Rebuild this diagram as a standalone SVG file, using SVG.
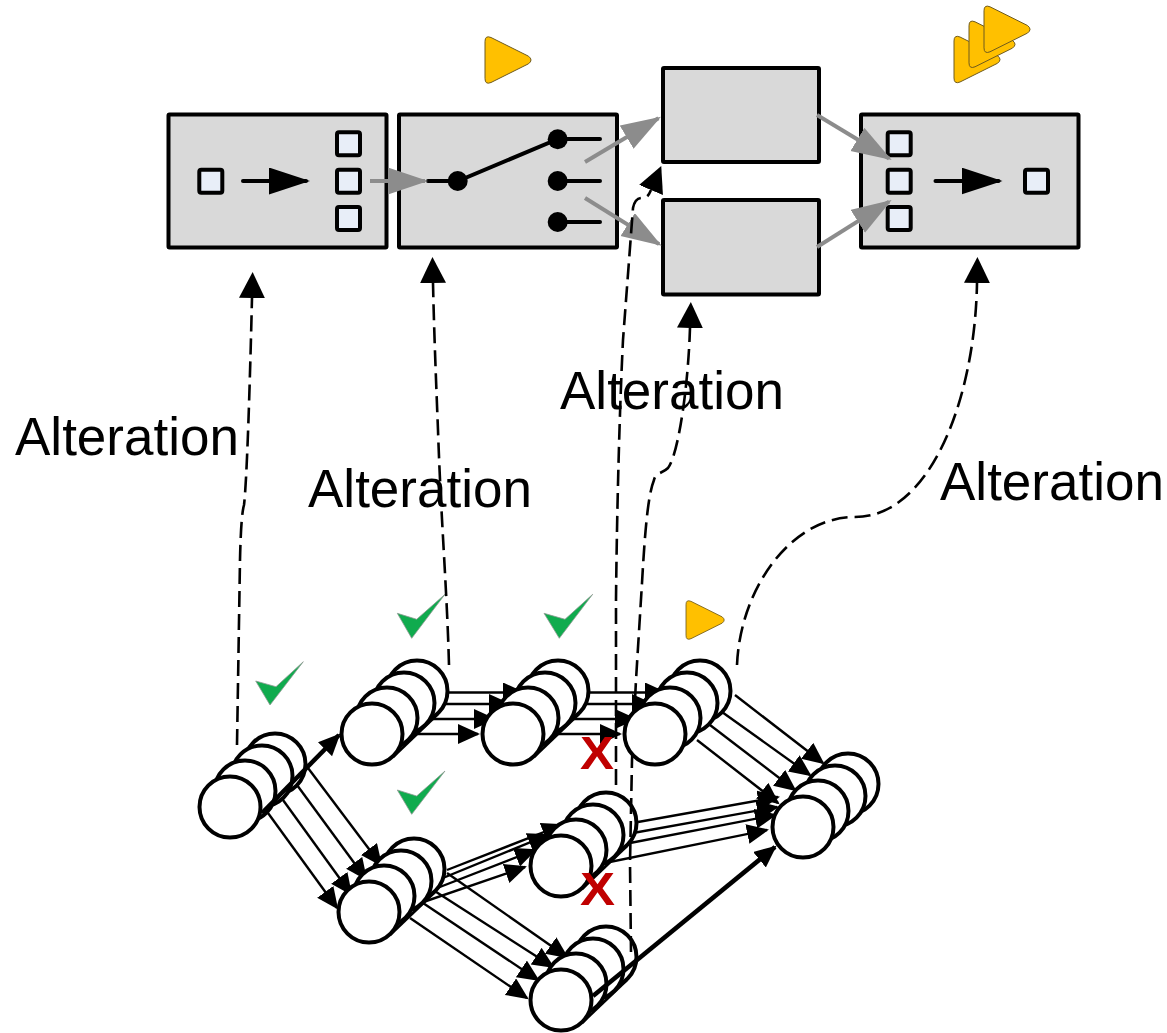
<svg xmlns="http://www.w3.org/2000/svg" width="1167" height="1033" viewBox="0 0 1167 1033">
<style>
.box{fill:#d9d9d9;stroke:#000;stroke-width:4;stroke-linejoin:round}
.sq{fill:#e8eef8;stroke:#000;stroke-width:4}
.dot{fill:#000}
.wire{fill:none;stroke:#000;stroke-width:4;stroke-linecap:round}
.garrow{fill:none;stroke:#8c8c8c;stroke-width:4;marker-end:url(#hg)}
.barrow{fill:none;stroke:#000;stroke-width:4;stroke-linecap:round;marker-end:url(#hb)}
.thin{fill:none;stroke:#000;stroke-width:2.4;marker-end:url(#ht)}
.thick{fill:none;stroke:#000;stroke-width:4.5;marker-end:url(#ht)}
.dash{fill:none;stroke:#000;stroke-width:2.6;stroke-dasharray:16 7;marker-end:url(#hd)}
.c{fill:#fff;stroke:#000;stroke-width:4}
.tan{stroke:#000;stroke-width:2.6}
.tri{fill:#ffc000;stroke:#6e5a1e;stroke-width:1}
.chk{fill:#10ab4e;stroke:#8f9a93;stroke-width:.8}
.lbl{font-family:"Liberation Sans",Arial,sans-serif;font-size:53px;fill:#000}
.x{font-family:"Liberation Sans",Arial,sans-serif;font-size:47px;font-weight:bold;fill:#c00000}
</style>
<defs>
<marker id="ht" markerUnits="userSpaceOnUse" markerWidth="23" markerHeight="21" refX="20" refY="10" orient="auto"><path d="M0 0L22 10L0 20Z"/></marker>
<marker id="hd" markerUnits="userSpaceOnUse" markerWidth="28" markerHeight="28" refX="0" refY="13" orient="auto"><path d="M0 0L26 13L0 26Z"/></marker>
<marker id="hb" markerUnits="userSpaceOnUse" markerWidth="42" markerHeight="28" refX="37" refY="13.500" orient="auto"><path d="M0 0L41 13.500L0 27Z"/></marker>
<marker id="hg" markerUnits="userSpaceOnUse" markerWidth="42" markerHeight="28" refX="37" refY="13.500" orient="auto"><path d="M0 0L40 13.500L0 27Z" fill="#8c8c8c"/></marker>
<g id="stack">
<circle class="c" cx="45" cy="-43" r="30.500"/>
<circle class="c" cx="32" cy="-31" r="30.500"/>
<circle class="c" cx="15" cy="-16" r="30.500"/>
<circle class="c" cx="0" cy="0" r="30.500"/>
</g>
<line id="tangent" class="tan" x1="21" y1="23" x2="66" y2="-20"/>
<path id="tri" class="tri" d="M0 5Q0 -1.500 6 1L43.500 19.700Q48.500 23.500 43.500 27.300L6 46Q0 48.500 0 42Z"/>
</defs>

<g id="box-split-left">
<rect class="box" x="168.500" y="114.500" width="218" height="133" rx="1"/>
<rect class="sq" x="199.300" y="169.700" width="23" height="23" rx="2"/>
<rect class="sq" x="337" y="132.300" width="23" height="23" rx="2"/>
<rect class="sq" x="337" y="169.700" width="23" height="23" rx="2"/>
<rect class="sq" x="337" y="207" width="23" height="23" rx="2"/>
<line class="barrow" x1="243" y1="181" x2="306" y2="181"/>
</g>
<g id="box-switch">
<rect class="box" x="399" y="114.500" width="218" height="133" rx="1"/>
<path class="wire" d="M428 181H458L558 139H600M558 181H600M558 222H600"/>
<circle class="dot" cx="457.700" cy="181" r="10"/>
<circle class="dot" cx="557.700" cy="139.300" r="10"/>
<circle class="dot" cx="557.700" cy="181" r="10"/>
<circle class="dot" cx="557.700" cy="222" r="10"/>
</g>
<g id="box-upper"><rect class="box" x="663" y="68" width="156" height="94" rx="1"/></g>
<g id="box-lower"><rect class="box" x="663" y="200" width="156" height="94.500" rx="1"/></g>
<g id="box-merge">
<rect class="box" x="861" y="114.500" width="217.500" height="133" rx="1"/>
<rect class="sq" x="887.700" y="132.300" width="23" height="23" rx="2"/>
<rect class="sq" x="887.700" y="169.700" width="23" height="23" rx="2"/>
<rect class="sq" x="887.700" y="207" width="23" height="23" rx="2"/>
<rect class="sq" x="1025" y="169.700" width="23" height="23" rx="2"/>
<line class="barrow" x1="935.500" y1="181" x2="998.500" y2="181"/>
</g>
<g id="top-connectors">
<line class="garrow" x1="370" y1="181" x2="425" y2="181"/>
<line class="garrow" x1="585" y1="162" x2="658.400" y2="118.200"/>
<line class="garrow" x1="585" y1="198" x2="659.100" y2="244.100"/>
<line class="garrow" x1="817" y1="115" x2="889.100" y2="158.500"/>
<line class="garrow" x1="817" y1="247" x2="889.100" y2="201.600"/>
</g>

<g id="markers">
<use href="#tri" x="485" y="36.500"/>
<use href="#tri" x="954" y="36"/>
<use href="#tri" x="969" y="20.800"/>
<use href="#tri" x="984" y="5.800"/>
<use href="#tri" transform="translate(686 600.500) scale(.83)"/>
<path class="chk" d="M255.700 681L270 705L303.300 661.700L276 686.700Z"/>
<path class="chk" d="M397.300 613.300L411.700 638.300L445 594.300L416.700 619.300Z"/>
<path class="chk" d="M397.300 790L411.700 814.300L445 771L416.700 796Z"/>
<path class="chk" d="M544 613.300L559.300 638.300L592.700 594.300L565 619.300Z"/>
</g>

<g id="connectors">
<line class="thin" x1="308" y1="768" x2="381" y2="865"/>
<line class="thin" x1="297" y1="785" x2="366" y2="879"/>
<line class="thin" x1="283" y1="800" x2="351" y2="894"/>
<line class="thin" x1="268" y1="813" x2="337" y2="908"/>
<line class="thin" x1="430" y1="692.500" x2="523" y2="692.500"/>
<line class="thin" x1="420" y1="704" x2="509" y2="704"/>
<line class="thin" x1="400" y1="719" x2="494" y2="719"/>
<line class="thin" x1="390" y1="734" x2="478" y2="734"/>
<line class="thin" x1="570" y1="692.500" x2="665" y2="692.500"/>
<line class="thin" x1="560" y1="704" x2="652" y2="704"/>
<line class="thin" x1="550" y1="719" x2="635" y2="719"/>
<line class="thin" x1="530" y1="734" x2="620" y2="734"/>
<line class="thin" x1="735" y1="695" x2="823" y2="763"/>
<line class="thin" x1="722" y1="712" x2="810" y2="775"/>
<line class="thin" x1="710" y1="725" x2="795" y2="790"/>
<line class="thin" x1="697" y1="740" x2="778" y2="803"/>
<line class="thin" x1="447" y1="870" x2="562" y2="825"/>
<line class="thin" x1="438" y1="880" x2="548" y2="835"/>
<line class="thin" x1="427" y1="892" x2="535" y2="850"/>
<line class="thin" x1="403" y1="909" x2="525" y2="867"/>
<line class="thin" x1="638" y1="822" x2="778" y2="797"/>
<line class="thin" x1="633" y1="833" x2="777" y2="807"/>
<line class="thin" x1="630" y1="843" x2="775" y2="815"/>
<line class="thin" x1="595" y1="865" x2="767" y2="830"/>
<line class="thin" x1="447" y1="873" x2="567" y2="957"/>
<line class="thin" x1="430" y1="888" x2="553" y2="967"/>
<line class="thin" x1="423" y1="903" x2="538" y2="980"/>
<line class="thin" x1="410" y1="918" x2="527" y2="998"/>
</g>

<g id="node-a"><use href="#stack" x="230" y="807"/></g>
<g id="node-b"><use href="#tangent" x="372" y="734"/><use href="#stack" x="372" y="734"/></g>
<g id="node-c"><use href="#tangent" x="513" y="734"/><use href="#stack" x="513" y="734"/></g>
<g id="node-e"><use href="#tangent" x="369" y="912"/><use href="#stack" x="369" y="912"/></g>
<g id="node-f"><use href="#tangent" x="561" y="866"/><use href="#stack" x="561" y="866"/></g>
<g id="node-g"><use href="#tangent" x="561" y="1000"/><use href="#stack" x="561" y="1000"/></g>
<g id="node-h"><use href="#stack" x="803" y="827"/></g>

<g id="dashed-connectors">
<line class="thick" x1="262" y1="813" x2="339" y2="735"/>
<line class="thick" x1="593" y1="996" x2="775" y2="847"/>
<path class="dash" d="M237 745L240 560Q241 515 244 505C247 480 250 380 252 298"/>
<path class="dash" d="M449 665C447 590 441 520 438 430C436 380 434 330 433 283"/>
<path class="dash" d="M616 785L616 600C617 500 620 400 623 340L633 208Q635 198 642 198C646 198 648 197 651 190"/>
<path class="dash" d="M631 952L630 863L632 760L636 680L642 583C645 530 648 495 654 480C656 472 662 474 668 468C678 455 688 390 690 328"/>
<path class="dash" d="M737 665C740 590 790 517 855 517C930 517 975 400 977 283"/>
</g>

<g id="node-d"><use href="#stack" x="655" y="734"/></g>

<g id="labels">
<text class="lbl" x="15" y="455">Alteration</text>
<text class="lbl" x="308" y="507">Alteration</text>
<text class="lbl" x="560" y="409">Alteration</text>
<text class="lbl" x="940" y="500">Alteration</text>
<text class="x" x="580" y="769" textLength="34" lengthAdjust="spacingAndGlyphs">X</text>
<text class="x" x="580" y="905" textLength="35" lengthAdjust="spacingAndGlyphs">X</text>
</g>
</svg>
